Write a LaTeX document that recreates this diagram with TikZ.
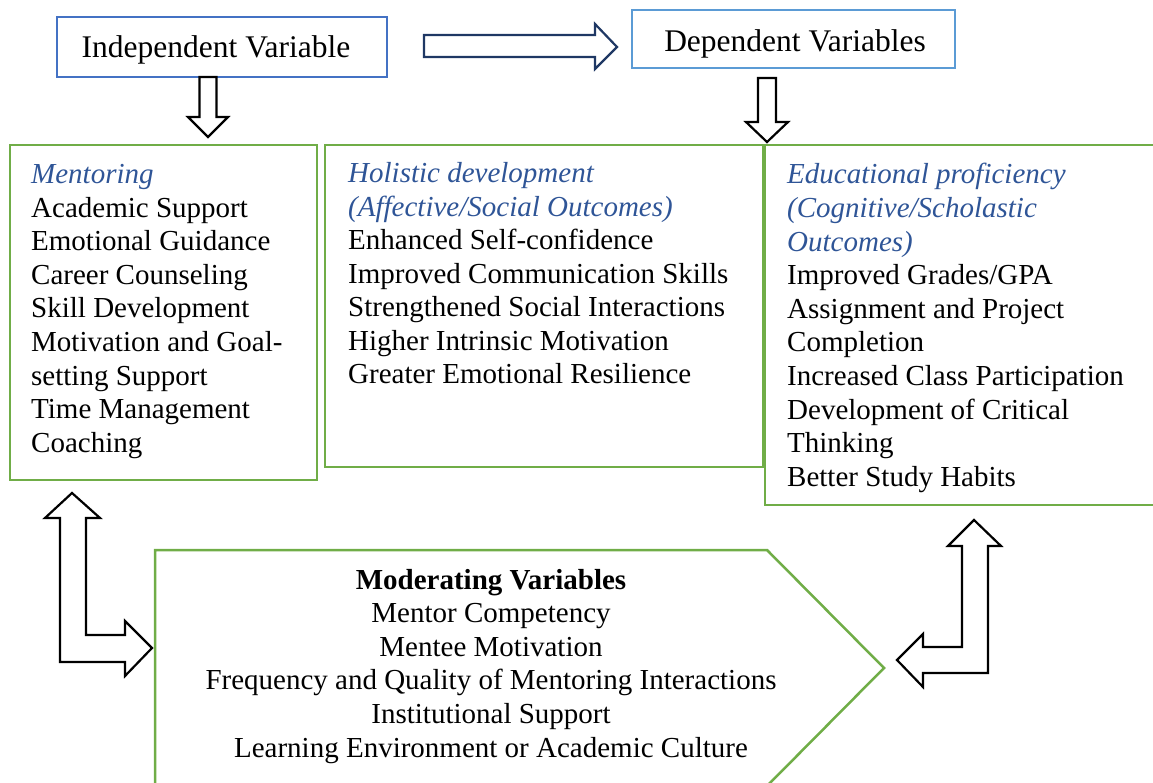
\documentclass[tikz,border=0pt]{standalone}
\usepackage{fontspec}
\setmainfont{Liberation Serif}
\definecolor{indepblue}{HTML}{4472C4}
\definecolor{depblue}{HTML}{5B9BD5}
\definecolor{framegreen}{HTML}{70AD47}
\definecolor{navy}{HTML}{1F3864}
\definecolor{headblue}{HTML}{2F5597}
\begin{document}
\begin{tikzpicture}[x=1pt,y=-1pt,
  bluebox/.style={draw=#1, line width=2pt, inner sep=0pt, outer sep=0pt, fill=white},
  greenframe/.style={draw=framegreen, line width=2.5pt},
  blockarrow/.style={draw=black, line width=2.2pt, fill=white, line join=miter},
  hdrtext/.style={font=\fontsize{31.5}{36}\selectfont, anchor=base, inner sep=0pt},
  itemtext/.style={font=\fontsize{29}{33.5}\selectfont, anchor=base west, inner sep=0pt},
  headtext/.style={itemtext, font=\fontsize{29}{33.5}\selectfont\itshape, text=headblue},
  modtext/.style={font=\fontsize{29}{33.5}\selectfont, anchor=base, inner sep=0pt}]
\clip (0,0) rectangle (1153,783);
\useasboundingbox (0,0) rectangle (1153,783);

% top boxes
\node[bluebox=indepblue, minimum width=330pt, minimum height=60pt] (indep) at (222,47) {};
\node[hdrtext] (indep-t) at (216,58) {Independent Variable};
\node[bluebox=depblue, minimum width=323pt, minimum height=58pt] (dep) at (793.5,39) {};
\node[hdrtext] (dep-t) at (795,52) {Dependent Variables};

% green frames
\draw[greenframe] (10,145) rectangle (317,480);
\draw[greenframe] (325,145) rectangle (763,467);
\draw[greenframe] (765,145) rectangle (1170,505);
\draw[greenframe] (155,800) -- (155,550) -- (767,550) -- (884,668) -- (767,786) -- (155,786);

% named points on frames
\coordinate (mentor-top) at (208,145);
\coordinate (edu-top) at (767,145);
\coordinate (mentor-bot) at (72,480);
\coordinate (edu-bot) at (974,505);
\coordinate (mod-left) at (155,648);
\coordinate (mod-tip) at (884,668);

% arrow from independent to dependent
\draw[draw=navy, line width=2.2pt, fill=white]
  (424,35) -- (595,35) -- (595,24) -- (617,47) -- (595,69) -- (595,57) -- (424,57) -- cycle;

% down arrow under the independent variable
\draw[blockarrow]
  (199.5,77) -- (216.5,77) -- (216.5,117) -- (228,117) -- (208,137)
  -- (188,117) -- (199.5,117) -- cycle;

% down arrow under the dependent variables
\draw[blockarrow]
  (758,78) -- (776,78) -- (776,122) -- (788,122) -- (767,142)
  -- (746,122) -- (758,122) -- cycle;

% bent two-way arrow between mentoring and moderating variables
\draw[blockarrow]
  (72,493) -- (100,518) -- (86,518) -- (86,635) -- (125,635) -- (125,621)
  -- (152,648) -- (125,676) -- (125,662) -- (60,662) -- (60,518) -- (45,518) -- cycle;

% bent two-way arrow between educational proficiency and moderating variables
\draw[blockarrow]
  (974,520) -- (1001,546) -- (988,546) -- (988,673) -- (923,673) -- (923,687)
  -- (897,660) -- (923,634) -- (923,647) -- (962,647) -- (962,546) -- (948,546) -- cycle;

% mentoring list
\node[headtext] (mentor-h) at (31,184) {Mentoring};
\foreach \t [count=\i] in {{Academic Support},{Emotional Guidance},{Career Counseling},
    {Skill Development},{Motivation and Goal-},{setting Support},{Time Management},{Coaching}}
  \node[itemtext] (mentor-\i) at (31,{184+\i*33.5}) {\t};

% holistic development list
\node[headtext] (hol-h1) at (348,183) {Holistic development};
\node[headtext] (hol-h2) at (348,216.4) {(Affective/Social Outcomes)};
\foreach \t [count=\i] in {{Enhanced Self-confidence},{Improved Communication Skills},
    {Strengthened Social Interactions},{Higher Intrinsic Motivation},{Greater Emotional Resilience}}
  \node[itemtext] (hol-\i) at (348,{216.4+\i*33.4}) {\t};

% educational proficiency list
\node[headtext] (edu-h1) at (787,184) {Educational proficiency};
\node[headtext] (edu-h2) at (787,217.6) {(Cognitive/Scholastic};
\node[headtext] (edu-h3) at (787,251.2) {Outcomes)};
\foreach \t [count=\i] in {{Improved Grades/GPA},{Assignment and Project},{Completion},
    {Increased Class Participation},{Development of Critical},{Thinking},{Better Study Habits}}
  \node[itemtext] (edu-\i) at (787,{251.2+\i*33.6}) {\t};

% moderating variables
\node[modtext, font=\fontsize{29}{33.5}\selectfont\bfseries] (mod-h) at (491,589) {Moderating Variables};
\foreach \t [count=\i] in {{Mentor Competency},{Mentee Motivation},
    {Frequency and Quality of Mentoring Interactions},{Institutional Support},
    {Learning Environment or Academic Culture}}
  \node[modtext] (mod-\i) at (491,{589+\i*33.6}) {\t};
\end{tikzpicture}
\end{document}
